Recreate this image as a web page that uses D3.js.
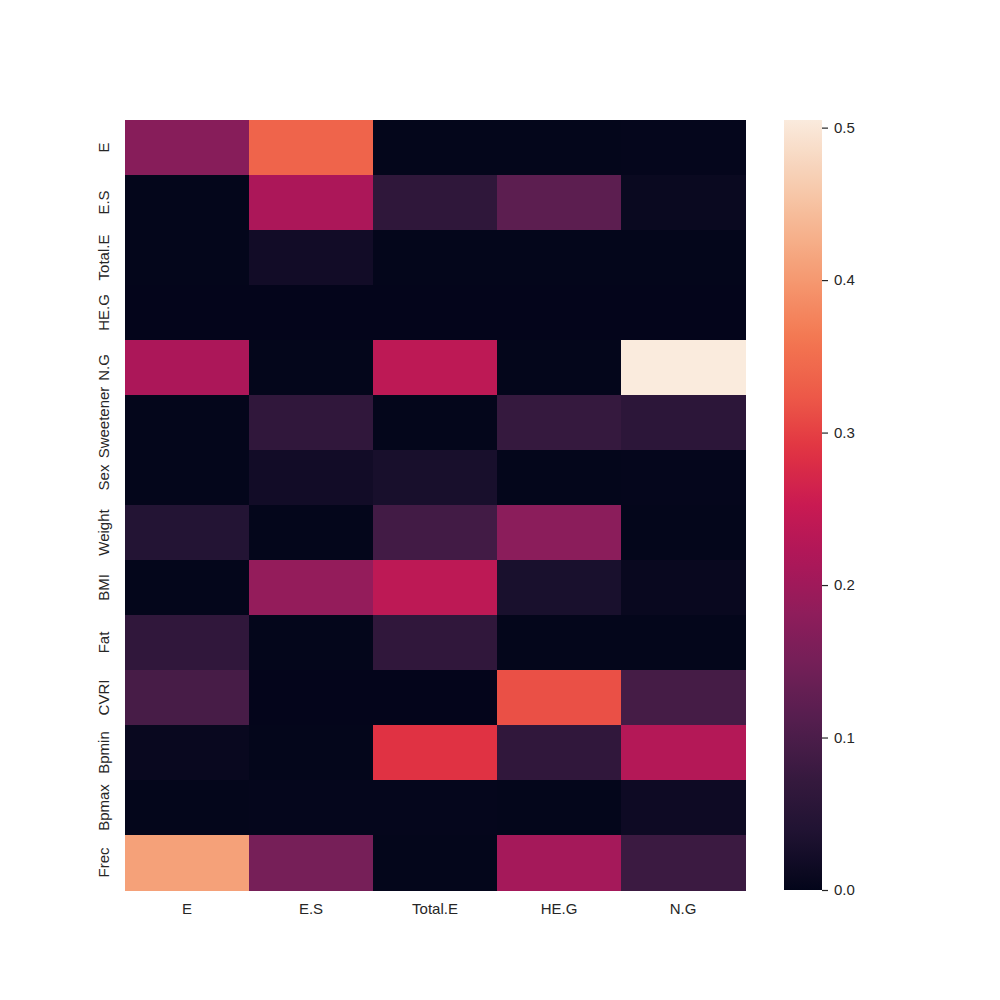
<!DOCTYPE html>
<html>
<head>
<meta charset="utf-8">
<script src="https://cdn.jsdelivr.net/npm/d3@7"></script>
<style>
  body { margin: 0; background: #fff; }
  text { font-family: "Liberation Sans", Arial, sans-serif; fill: #262626; }
</style>
</head>
<body>
<div id="chart"></div>
<script>
const columns = ["E", "E.S", "Total.E", "HE.G", "N.G"];
const rows = ["E", "E.S", "Total.E", "HE.G", "N.G", "Sweetener", "Sex", "Weight", "BMI", "Fat", "CVRI", "Bpmin", "Bpmax", "Frec"];

// one array per row, values in column order
const rowE         = [0.172, 0.338, 0.002, 0.002, 0.003];
const rowES        = [0.002, 0.215, 0.062, 0.120, 0.010];
const rowTotalE    = [0.002, 0.020, 0.002, 0.002, 0.002];
const rowHEG       = [0.001, 0.001, 0.001, 0.001, 0.001];
const rowNG        = [0.215, 0.002, 0.237, 0.002, 0.505];
const rowSweetener = [0.002, 0.064, 0.002, 0.072, 0.058];
const rowSex       = [0.002, 0.020, 0.028, 0.002, 0.003];
const rowWeight    = [0.044, 0.002, 0.088, 0.177, 0.002];
const rowBMI       = [0.002, 0.187, 0.237, 0.030, 0.008];
const rowFat       = [0.064, 0.002, 0.064, 0.002, 0.002];
const rowCVRI      = [0.094, 0.001, 0.001, 0.315, 0.092];
const rowBpmin     = [0.008, 0.002, 0.287, 0.064, 0.225];
const rowBpmax     = [0.002, 0.003, 0.003, 0.002, 0.015];
const rowFrec      = [0.410, 0.152, 0.002, 0.207, 0.080];
const matrix = [rowE, rowES, rowTotalE, rowHEG, rowNG, rowSweetener, rowSex, rowWeight, rowBMI, rowFat, rowCVRI, rowBpmin, rowBpmax, rowFrec];

const colorTicks = [0.0, 0.1, 0.2, 0.3, 0.4, 0.5];
const VMIN = 0;
const VMAX = 0.505;

// seaborn "rocket" approximated by stops
const rocketStops = ["#03051a", "#1e1231", "#35193e", "#521e4d", "#701f57", "#8e1d5b",
  "#ad1759", "#c91a52", "#e13342", "#ed5a48", "#f37651", "#f5966d", "#f6b48f", "#f7d0b6", "#faebdd"];
const rocket = d3.scaleLinear()
  .domain(rocketStops.map((d, i) => i / (rocketStops.length - 1)))
  .range(rocketStops)
  .interpolate(d3.interpolateRgb)
  .clamp(true);
const color = v => rocket((v - VMIN) / (VMAX - VMIN));

const WIDTH = 1000, HEIGHT = 1000;
const LEFT = 125, RIGHT = 745, TOP = 120, BOTTOM = 890;

const svg = d3.select('#chart').append('svg')
  .attr('width', WIDTH)
  .attr('height', HEIGHT);

const x = d3.scaleBand().domain(columns).range([LEFT, RIGHT]);
const y = d3.scaleBand().domain(rows).range([TOP, BOTTOM]);

const cells = [];
matrix.forEach((vals, r) => vals.forEach((v, c) => cells.push({ row: rows[r], col: columns[c], v })));

svg.selectAll('rect.cell')
  .data(cells)
  .join('rect')
    .attr('class', 'cell')
    .attr('x', d => x(d.col))
    .attr('y', d => y(d.row))
    .attr('width', x.bandwidth() + 0.5)
    .attr('height', y.bandwidth() + 0.5)
    .attr('fill', d => color(d.v))
    .attr('shape-rendering', 'crispEdges');

// x labels
svg.selectAll('.xlabel')
  .data(columns)
  .join('text')
    .attr('class', 'xlabel')
    .attr('x', d => x(d) + x.bandwidth() / 2)
    .attr('y', BOTTOM + 24)
    .attr('text-anchor', 'middle')
    .attr('font-size', 15)
    .text(d => d);

// y labels, rotated
svg.selectAll('.ylabel')
  .data(rows)
  .join('text')
    .attr('class', 'ylabel')
    .attr('transform', d => `translate(${LEFT - 16},${y(d) + y.bandwidth() / 2}) rotate(-90)`)
    .attr('text-anchor', 'middle')
    .attr('font-size', 15)
    .text(d => d);

// colorbar
const CB_X = 784, CB_W = 38;
const cbScale = d3.scaleLinear().domain([VMIN, VMAX]).range([BOTTOM, TOP]);

const defs = svg.append('defs');
const grad = defs.append('linearGradient')
  .attr('id', 'cbgrad')
  .attr('x1', 0).attr('y1', 1).attr('x2', 0).attr('y2', 0);
d3.range(0, 1.0001, 0.02).forEach(t => {
  grad.append('stop').attr('offset', t).attr('stop-color', rocket(t));
});

svg.append('rect')
  .attr('x', CB_X)
  .attr('y', TOP)
  .attr('width', CB_W)
  .attr('height', BOTTOM - TOP)
  .attr('fill', 'url(#cbgrad)');

const cbAxis = d3.axisRight(cbScale)
  .tickValues(colorTicks)
  .tickFormat(d3.format('.1f'))
  .tickSize(6)
  .tickPadding(6);

const cbG = svg.append('g')
  .attr('transform', `translate(${CB_X + CB_W},0)`)
  .call(cbAxis);
cbG.select('.domain').remove();
cbG.selectAll('line').attr('stroke', '#262626').attr('stroke-width', 1.2);
cbG.selectAll('text')
  .attr('font-size', 15)
  .attr('font-family', '"Liberation Sans", Arial, sans-serif')
  .attr('fill', '#262626');
</script>
</body>
</html>
